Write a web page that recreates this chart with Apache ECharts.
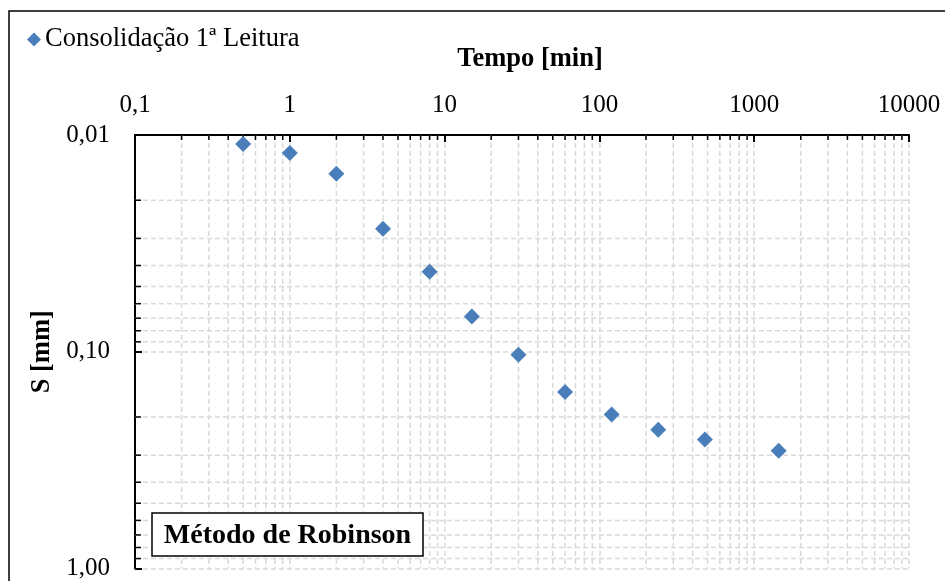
<!DOCTYPE html>
<html>
<head>
<meta charset="utf-8">
<script src="https://cdn.jsdelivr.net/npm/echarts@6/dist/echarts.min.js"></script>
<style>html,body{margin:0;padding:0;background:#fff}#c{width:945px;height:581px}</style>
</head>
<body>
<div id="c"></div>
<script>
// ---- data ----
const seriesName = 'Consolidação 1ª Leitura';
const tempo = [0.5, 1, 2, 4, 8, 15, 30, 60, 120, 240, 480, 1440];
const recalque = [0.0110, 0.0121, 0.0151, 0.0271, 0.0427, 0.0688, 0.1032, 0.1534, 0.195, 0.229, 0.254, 0.286];
const xDecades = [0.1, 1, 10, 100, 1000];
const yDecades = [0.01, 0.1];
const minorMult = [2, 3, 4, 5, 6, 7, 8, 9];
const xName = 'Tempo [min]';
const yName = 'S [mm]';
const boxText = 'Método de Robinson';

const FONT = 'Liberation Serif';
const xMinor = [];
xDecades.forEach(d => minorMult.forEach(m => xMinor.push([+(d * m).toPrecision(3), 0.01])));
const yMinor = [];
yDecades.forEach(d => minorMult.forEach(m => yMinor.push([0.1, +(d * m).toPrecision(3)])));

const gridColor = '#d9d9d9';
const chart = echarts.init(document.getElementById('c'), null, {renderer: 'canvas'});
chart.setOption({
  animation: false,
  backgroundColor: '#fff',
  textStyle: {fontFamily: FONT},
  grid: {left: 135, right: 36, top: 135, bottom: 12},
  legend: {
    left: 22, top: 21, itemWidth: 14, itemHeight: 14, itemGap: 4,
    data: [{name: seriesName, icon: 'diamond'}],
    textStyle: {fontFamily: FONT, fontSize: 26.5, color: '#000', padding: [0, 0, 0, -1]}
  },
  xAxis: {
    type: 'log', logBase: 10, min: 0.1, max: 10000, position: 'top',
    name: xName, nameLocation: 'middle', nameGap: 62,
    nameTextStyle: {fontFamily: FONT, fontSize: 26.5, fontWeight: 'bold', color: '#000', padding: [0, 0, 0, 16]},
    axisLine: {show: true, lineStyle: {color: '#000', width: 2}},
    axisTick: {show: true, inside: true, length: 7, lineStyle: {color: '#000', width: 2}},
    axisLabel: {
      fontFamily: FONT, fontSize: 25, color: '#000', margin: 17,
      formatter: v => (v < 1 ? String(+v.toPrecision(3)).replace('.', ',') : String(Math.round(v)))
    },
    splitLine: {show: true, lineStyle: {color: gridColor, type: [5, 3], width: 1.5}}
  },
  yAxis: {
    type: 'log', logBase: 10, min: 0.01, max: 1, inverse: true,
    name: yName, nameLocation: 'middle', nameGap: 79, nameRotate: 90,
    nameTextStyle: {fontFamily: FONT, fontSize: 26.5, fontWeight: 'bold', color: '#000'},
    axisLine: {show: true, lineStyle: {color: '#000', width: 2}},
    axisTick: {show: true, inside: true, length: 7, lineStyle: {color: '#000', width: 2}},
    axisLabel: {
      fontFamily: FONT, fontSize: 25, color: '#000', margin: 25,
      formatter: v => (+v).toFixed(2).replace('.', ',')
    },
    splitLine: {show: true, lineStyle: {color: gridColor, type: [5, 3], width: 1.5}}
  },
  series: [
    {
      type: 'custom', silent: true, z: 1,
      data: xMinor, encode: {x: 0, y: 1},
      renderItem: (params, api) => {
        const v = api.value(0);
        const p1 = api.coord([v, 0.01]);
        const p2 = api.coord([v, 1]);
        return {type: 'group', children: [
          {type: 'line', shape: {x1: p1[0], y1: p1[1], x2: p2[0], y2: p2[1]}, style: {stroke: gridColor, lineWidth: 1.5, lineDash: [5, 3]}},
          {type: 'line', shape: {x1: p1[0], y1: p1[1], x2: p1[0], y2: p1[1] + 5}, style: {stroke: '#000', lineWidth: 1.5}}
        ]};
      }
    },
    {
      type: 'custom', silent: true, z: 1,
      data: yMinor, encode: {x: 0, y: 1},
      renderItem: (params, api) => {
        const v = api.value(1);
        const p1 = api.coord([0.1, v]);
        const p2 = api.coord([10000, v]);
        return {type: 'group', children: [
          {type: 'line', shape: {x1: p1[0], y1: p1[1], x2: p2[0], y2: p2[1]}, style: {stroke: gridColor, lineWidth: 1.5, lineDash: [5, 3]}},
          {type: 'line', shape: {x1: p1[0], y1: p1[1], x2: p1[0] + 6, y2: p1[1]}, style: {stroke: '#000', lineWidth: 1.5}}
        ]};
      }
    },
    {
      name: seriesName, type: 'scatter', z: 5,
      symbol: 'diamond', symbolSize: 16,
      itemStyle: {color: '#4A7EBB', opacity: 1},
      data: tempo.map((t, i) => [t, recalque[i]])
    }
  ],
  graphic: [
    {type: 'rect', x: 0, y: 0, shape: {x: 9, y: 11, width: 1000, height: 1000}, style: {fill: 'none', stroke: '#000', lineWidth: 1.5}},
    {type: 'rect', x: 0, y: 0, zlevel: 1, shape: {x: 152, y: 513, width: 271, height: 43}, style: {fill: '#fff', stroke: '#000', lineWidth: 1.5}},
    {type: 'text', x: 287.5, y: 536, zlevel: 1, style: {text: boxText, fontFamily: FONT, fontSize: 28, fontWeight: 'bold', fill: '#000', align: 'center', verticalAlign: 'middle'}}
  ]
});
</script>
</body>
</html>
